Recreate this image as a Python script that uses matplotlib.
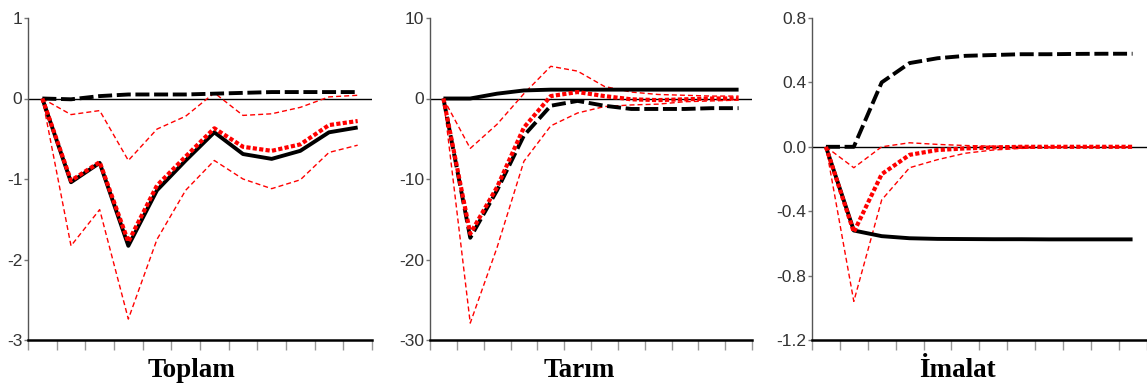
import numpy as np
import matplotlib
matplotlib.use('agg')
import matplotlib.pyplot as plt

periods = np.arange(1, 13)

# Toplam
top_solid = [0, -1.04, -0.80, -1.83, -1.14, -0.77, -0.42, -0.69, -0.75, -0.65, -0.42, -0.36]
top_dash = [0, -0.01, 0.03, 0.05, 0.05, 0.05, 0.06, 0.07, 0.08, 0.08, 0.08, 0.08]
top_med = [0, -1.02, -0.79, -1.78, -1.08, -0.72, -0.37, -0.60, -0.65, -0.57, -0.33, -0.28]
top_up = [0, -0.20, -0.15, -0.77, -0.38, -0.22, 0.07, -0.21, -0.19, -0.11, 0.02, 0.04]
top_lo = [0, -1.83, -1.38, -2.74, -1.75, -1.14, -0.77, -1.00, -1.12, -1.01, -0.67, -0.58]

# Tarim
tar_solid = [0, 0, 0.6, 1.0, 1.1, 1.1, 1.1, 1.1, 1.1, 1.1, 1.1, 1.1]
tar_dash = [0, -17.3, -11.4, -4.6, -0.9, -0.3, -0.9, -1.3, -1.3, -1.3, -1.2, -1.2]
tar_med = [0, -16.8, -11.0, -3.6, 0.3, 0.8, 0.3, -0.1, -0.2, -0.1, 0.0, 0.0]
tar_up = [0, -6.2, -3.2, 0.6, 4.0, 3.4, 1.5, 0.8, 0.5, 0.4, 0.3, 0.3]
tar_lo = [0, -27.9, -18.5, -7.8, -3.4, -1.8, -1.0, -0.8, -0.7, -0.4, -0.3, -0.2]

# Imalat
ima_solid = [0, -0.52, -0.555, -0.568, -0.572, -0.573, -0.574, -0.574, -0.575, -0.575, -0.575, -0.575]
ima_dash = [0, 0, 0.40, 0.52, 0.55, 0.565, 0.57, 0.575, 0.575, 0.577, 0.578, 0.578]
ima_med = [0, -0.53, -0.17, -0.05, -0.02, -0.01, -0.004, 0, 0, 0, 0, 0]
ima_up = [0, -0.13, 0.0, 0.025, 0.015, 0.008, 0.004, 0.002, 0, 0, 0, 0]
ima_lo = [0, -0.96, -0.33, -0.13, -0.08, -0.04, -0.02, -0.01, -0.005, 0, 0, 0]

titles = ['Toplam', 'Tarım', 'İmalat']
yticks = [[1, 0, -1, -2, -3], [10, 0, -10, -20, -30], [0.8, 0.4, 0.0, -0.4, -0.8, -1.2]]
ylabels = [['1', '0', '-1', '-2', '-3'], ['10', '0', '-10', '-20', '-30'],
           ['0.8', '0.4', '0.0', '-0.4', '-0.8', '-1.2']]
ylims = [(-3, 1), (-30, 10), (-1.2, 0.8)]

data = [(top_solid, top_dash, top_med, top_up, top_lo),
        (tar_solid, tar_dash, tar_med, tar_up, tar_lo),
        (ima_solid, ima_dash, ima_med, ima_up, ima_lo)]

W, H = 1147, 385
boxes = [(28, 372), (430, 752), (812, 1146.5)]
title_x = [192, 579, 957]
top_px, bot_px = 18, 340

fig = plt.figure(figsize=(W / 100, H / 100), dpi=100)
tickfont = ['Liberation Sans Narrow', 'Liberation Sans', 'DejaVu Sans']

for i in range(3):
    l, r = boxes[i]
    ax = fig.add_axes([l / W, (H - bot_px) / H, (r - l) / W, (bot_px - top_px) / H])
    solid, dash, med, up, lo = data[i]
    ax.axhline(0, color='black', lw=1.0, zorder=1)
    ax.plot(periods, up, color='red', lw=1.0, dashes=(3.6, 2.2), zorder=2)
    ax.plot(periods, lo, color='red', lw=1.0, dashes=(3.6, 2.2), zorder=2)
    ax.plot(periods, solid, color='black', lw=2.8, zorder=3, solid_capstyle='butt')
    ax.plot(periods, dash, color='black', lw=2.8, dashes=(3.6, 1.2), zorder=3)
    ax.plot(periods, med, color='red', lw=3.0, dashes=(1.0, 0.55), zorder=4)

    ax.set_xlim(0.5, 12.5)
    ax.set_ylim(*ylims[i])
    ax.set_xticks(np.arange(0.5, 13, 1))
    ax.set_xticklabels([])
    ax.set_yticks(yticks[i])
    ax.set_yticklabels(ylabels[i], family=tickfont, fontsize=12.5, color='#333333')
    ax.tick_params(axis='x', direction='out', length=7, width=1, color='#999999')
    ax.tick_params(axis='y', direction='out', length=3, width=1, color='#777777', pad=1)
    ax.spines['top'].set_visible(False)
    ax.spines['right'].set_visible(False)
    ax.spines['left'].set_color('#555555')
    ax.spines['left'].set_linewidth(1.0)
    ax.spines['bottom'].set_color('black')
    ax.spines['bottom'].set_linewidth(1.8)

    fig.text(title_x[i] / W, (H - 377) / H, titles[i], ha='center', va='baseline',
             family=['Liberation Serif', 'DejaVu Serif'], fontweight='bold', fontsize=19.5)

plt.savefig('out.png', dpi=100)
